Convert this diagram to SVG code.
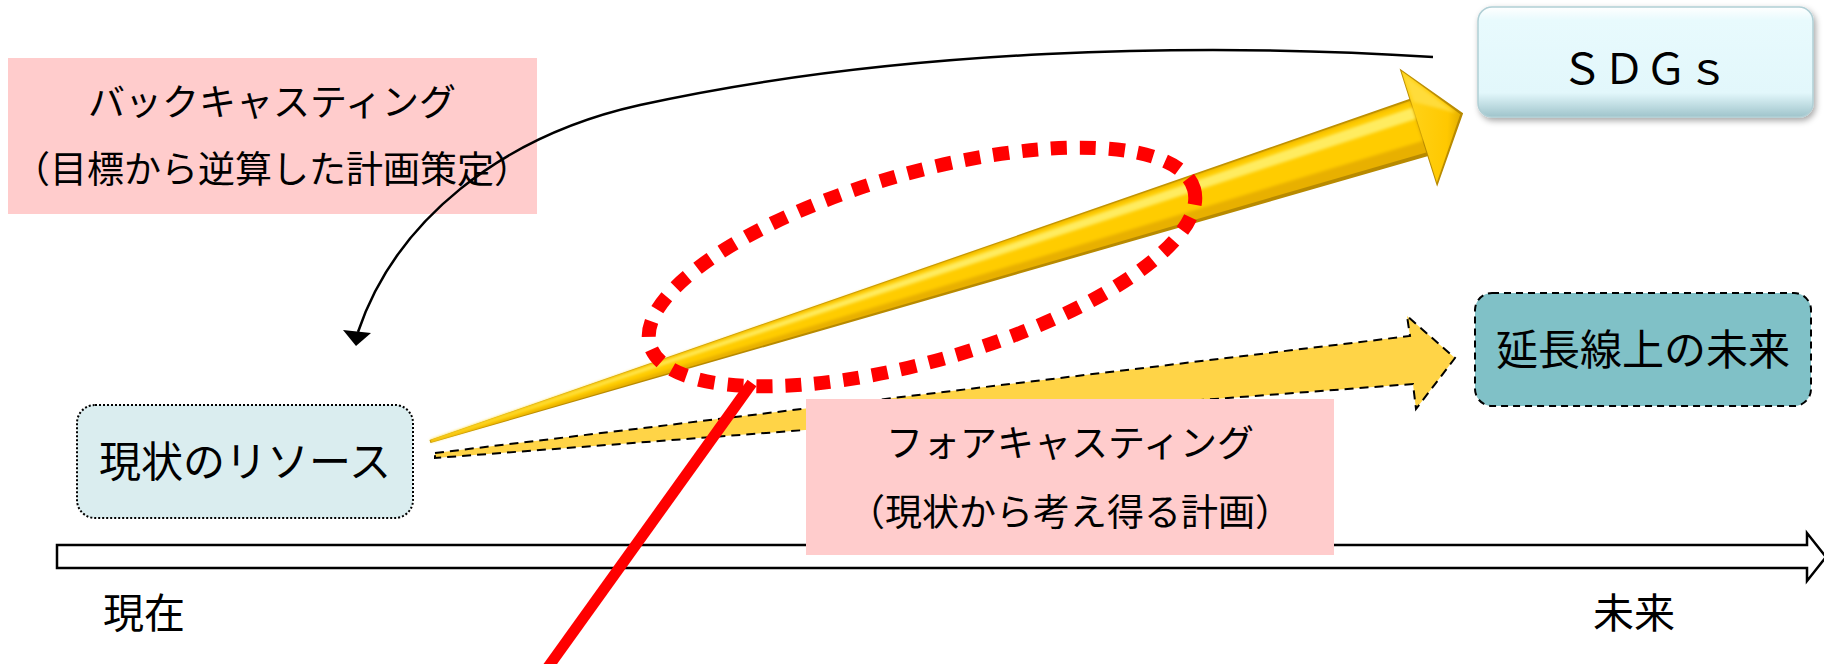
<svg xmlns="http://www.w3.org/2000/svg" width="1824" height="664" viewBox="0 0 1824 664">
  <defs>
    <style>
      .jp { font-family: 'Noto Sans CJK JP', 'Noto Sans', sans-serif; fill: #000; text-anchor: middle; }
      .label { fill: #ffcccc; }
      .line { fill: none; stroke: #000; stroke-width: 2.5; }
    </style>
    <linearGradient id="sdgsFill" x1="0" y1="0" x2="0" y2="1">
      <stop offset="0" stop-color="#ffffff"/>
      <stop offset="0.12" stop-color="#e8fafd"/>
      <stop offset="0.78" stop-color="#e2f7fb"/>
      <stop offset="1" stop-color="#9fc4cb"/>
    </linearGradient>
    <linearGradient id="headFill" x1="0" y1="0" x2="1" y2="1">
      <stop offset="0" stop-color="#ffd51e"/>
      <stop offset="0.6" stop-color="#ffc800"/>
      <stop offset="1" stop-color="#b98a00"/>
    </linearGradient>
    <filter id="shadow" x="-10%" y="-10%" width="125%" height="140%">
      <feDropShadow dx="2" dy="3" stdDeviation="3" flood-color="#000" flood-opacity="0.35"/>
    </filter>
    <filter id="soft" x="-5%" y="-50%" width="110%" height="200%">
      <feGaussianBlur stdDeviation="1.5"/>
    </filter>
  </defs>

  <rect width="1824" height="664" fill="#fff"/>

  <!-- time axis -->
  <g id="timeline">
    <path d="M57,545 H1807 V533 L1826,557 L1807,581 V568 H57 Z" fill="#fff" stroke="#000" stroke-width="2.5"/>
    <text class="jp" x="144" y="628" font-size="41">現在</text>
    <text class="jp" x="1634" y="628" font-size="41">未来</text>
  </g>

  <!-- label: back-casting -->
  <g id="backcasting-label">
    <rect class="label" x="8" y="58" width="529" height="156"/>
    <text class="jp" x="272" y="116" font-size="37">バックキャスティング</text>
    <text class="jp" x="272" y="183" font-size="37">（目標から逆算した計画策定）</text>
  </g>

  <g id="connectors">
    <!-- curved return arrow from the goal back to the present -->
    <path class="line" d="M1433,57 C1200,42 900,48 640,105 C500,136 395,222 358,332"/>
    <polygon points="343,330 371,333 356,346" fill="#000"/>

    <!-- gold arrow: present resources towards SDGs -->
    <g id="gold-arrow" transform="translate(430,441.5) rotate(-17.62)">
      <path d="M0,-1.6 L1037,-30 L1037,-62 L1084,0 L1037,62 L1037,30 L0,1.6 Z" fill="#b88a00"/>
      <path d="M1,-1.2 L1037,-28 L1037,26 L1,1 Z" fill="#e8b000"/>
      <path d="M1,-1.2 L1037,-27 L1037,14 L1,0.5 Z" fill="#ffcc00" filter="url(#soft)"/>
      <path d="M1,-0.9 L1037,-21 L1037,-9 L1,-0.3 Z" fill="#ffec60" filter="url(#soft)"/>
      <path d="M1038,-59 L1081,0 L1038,58 Z" fill="url(#headFill)"/>
      <path d="M1039,-55 L1077,-3 L1040,-26 Z" fill="#ffdc3a" filter="url(#soft)"/>
    </g>

    <!-- dashed arrow: extension of the present -->
    <path id="forecast-arrow" d="M435,453 L1410,336 L1407,316 L1455,358 L1416,409 L1413,384 L435,458 Z" fill="#ffd447" stroke="#000" stroke-width="2" stroke-dasharray="9 6"/>

    <!-- red emphasis -->
    <ellipse cx="922" cy="267" rx="283" ry="94" transform="rotate(-16 922 267)" fill="none" stroke="#ff0000" stroke-width="14" stroke-dasharray="16 13"/>
    <line x1="752" y1="383" x2="546" y2="670" stroke="#ff0000" stroke-width="11"/>
  </g>

  <!-- label: fore-casting -->
  <g id="forecasting-label">
    <rect class="label" x="806" y="399" width="528" height="156"/>
    <text class="jp" x="1070" y="457" font-size="37">フォアキャスティング</text>
    <text class="jp" x="1070" y="526" font-size="37">（現状から考え得る計画）</text>
  </g>

  <g id="sdgs">
    <rect x="1478" y="7" width="335" height="110" rx="14" fill="url(#sdgsFill)" stroke="#b0cfd5" stroke-width="1.5" filter="url(#shadow)"/>
    <text class="jp" x="1645" y="84" font-size="42">ＳＤＧｓ</text>
  </g>

  <g id="future-extension">
    <rect x="1475" y="293" width="336" height="113" rx="17" fill="#80c1c7" stroke="#000" stroke-width="2" stroke-dasharray="7 5"/>
    <text class="jp" x="1643" y="365" font-size="42">延長線上の未来</text>
  </g>

  <g id="present-resources">
    <rect x="77" y="405" width="336" height="113" rx="18" fill="#daedef" stroke="#000" stroke-width="2" stroke-dasharray="2 2"/>
    <text class="jp" x="245" y="477" font-size="42">現状のリソース</text>
  </g>
</svg>
